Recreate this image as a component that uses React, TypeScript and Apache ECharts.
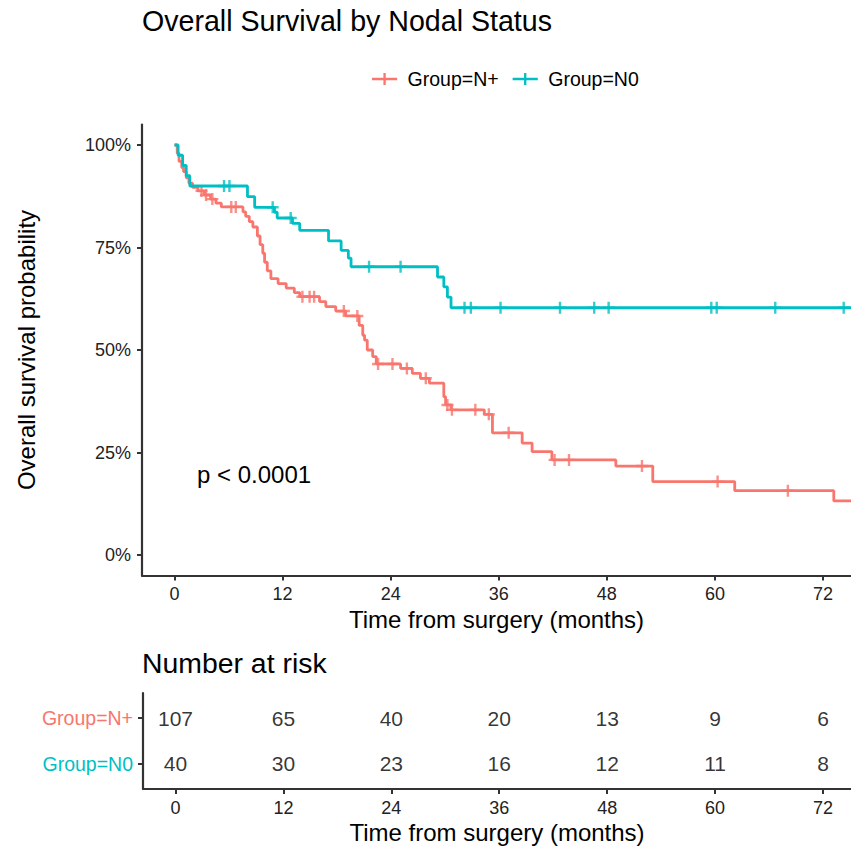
import React, { useEffect, useRef } from "react";
import * as echarts from "echarts";

const FONT = '"Liberation Sans", Arial, Helvetica, sans-serif';
const RED = "#F8766D";
const TEAL = "#00BFC4";

// Kaplan-Meier step points (time in months, survival in %)
const NPOS_TIMES = [0, 0.3, 0.5, 0.8, 1.0, 1.3, 1.6, 2.0, 2.6, 3.3, 4.0, 4.6, 5.2, 7.6, 7.9, 8.3, 8.7, 9.2, 9.5, 9.8, 10.0, 10.3, 10.7, 11.5, 12.4, 13.3, 13.9, 16.1, 16.8, 17.9, 19.0, 20.5, 20.9, 21.1, 21.4, 22.0, 22.4, 25.1, 26.4, 27.3, 28.3, 29.9, 30.1, 30.7, 34.4, 35.3, 38.6, 39.7, 41.9, 49.0, 53.1, 62.2, 73.2];
const NPOS_SURV = [100, 98, 96, 94.5, 93.5, 92, 90.7, 89.7, 88.8, 87.8, 86.8, 85.8, 84.9, 83.7, 82.6, 81.3, 80.0, 77.8, 75.7, 73.6, 71.4, 69.3, 67.4, 66.2, 65.1, 64.0, 63.0, 61.8, 60.6, 59.5, 58.3, 56.0, 53.6, 52.4, 50.0, 48.4, 46.6, 45.5, 44.3, 43.1, 41.9, 38.6, 36.6, 35.4, 34.3, 29.8, 27.3, 25.2, 23.2, 21.7, 17.9, 15.7, 13.2];
const NPOS_CENSOR = [3.0, 3.5, 4.2, 6.3, 6.8, 14.2, 15.0, 15.5, 18.8, 20.3, 22.6, 24.2, 25.8, 27.9, 30.3, 30.8, 33.4, 34.9, 37.1, 42.2, 43.8, 51.9, 60.3, 68.1];

const N0_TIMES = [0, 0.4, 0.9, 1.3, 1.7, 8.1, 8.9, 11.1, 11.4, 13.1, 13.9, 17.1, 18.5, 19.3, 19.6, 29.2, 29.9, 30.3, 30.7];
const N0_SURV = [100, 97.5, 95, 92.5, 90, 87.4, 84.8, 83.6, 82.2, 80.9, 79.2, 76.6, 74.3, 72.4, 70.3, 67.8, 65.4, 62.9, 60.3];
const N0_CENSOR = [5.5, 6.1, 10.9, 12.9, 21.6, 25.1, 32.2, 32.9, 36.2, 42.8, 46.6, 48.2, 59.6, 60.2, 66.7, 74.3];

const RISK_TIMES = [0, 12, 24, 36, 48, 60, 72];
const RISK_NPOS = [107, 65, 40, 20, 13, 9, 6];
const RISK_N0 = [40, 30, 23, 16, 12, 11, 8];

const X_TICKS = [0, 12, 24, 36, 48, 60, 72];
const Y_TICKS = [0, 25, 50, 75, 100];
const GROUPS = ["Group=N+", "Group=N0"];

const X_MIN = -3.61;
const X_MAX = 75.11;
const X_END = 80;

function stepData(times: number[], surv: number[]) {
  const d = times.map((t, i) => [t, surv[i]]);
  d.push([X_END, surv[surv.length - 1]]);
  return d;
}
function survAt(times: number[], surv: number[], t: number) {
  let v = surv[0];
  for (let i = 0; i < times.length; i++) if (times[i] <= t) v = surv[i];
  return v;
}
const PLUS = "path://M4,0H6V4H10V6H6V10H4V6H0V4H4Z";
const LEGEND_ICON = "path://M0,5H26V7.4H0Z M11.8,0H14.2V12.4H11.8Z";

export default function App() {
  const ref = useRef<HTMLDivElement>(null);
  useEffect(() => {
    if (!ref.current) return;
    const chart = echarts.init(ref.current, undefined, { renderer: "svg" });
    const axisLine = { show: true, onZero: false, lineStyle: { color: "#333", width: 2.2 } };
    const tickStyle = { color: "#333", width: 2 };
    const axisTickX = { show: true, customValues: X_TICKS, length: 5, lineStyle: tickStyle };
    const axisLabelX = { customValues: X_TICKS, fontSize: 18, color: "#222", margin: 9, fontFamily: FONT };
    const xName = {
      name: "Time from surgery (months)",
      nameLocation: "middle",
      nameTextStyle: { fontSize: 24, color: "#000", fontFamily: FONT },
    };
    const option: any = {
      animation: false,
      backgroundColor: "#fff",
      title: [
        { text: "Overall Survival by Nodal Status", left: 142, top: 6, padding: 0, textStyle: { fontSize: 28.6, fontWeight: "normal", color: "#000", fontFamily: FONT } },
        { text: "Number at risk", left: 142, top: 649, padding: 0, textStyle: { fontSize: 28.4, fontWeight: "normal", color: "#000", fontFamily: FONT } },
      ],
      legend: {
        data: GROUPS,
        top: 64,
        left: 367,
        itemWidth: 26,
        itemHeight: 12,
        itemGap: 14,
        icon: LEGEND_ICON,
        textStyle: { fontSize: 19.5, color: "#000", fontFamily: FONT, padding: [0, 0, 0, 5] },
      },
      grid: [
        { left: 142, right: 0, top: 124.5, height: 451 },
        { left: 143, right: 0, top: 693, height: 96 },
      ],
      xAxis: [
        { type: "value", gridIndex: 0, min: X_MIN, max: X_MAX, axisLine, axisTick: axisTickX, axisLabel: axisLabelX, splitLine: { show: false }, nameGap: 32, ...xName },
        { type: "value", gridIndex: 1, min: X_MIN, max: X_MAX, axisLine, axisTick: axisTickX, axisLabel: { ...axisLabelX, margin: 10 }, splitLine: { show: false }, nameGap: 31, ...xName },
      ],
      yAxis: [
        {
          type: "value", gridIndex: 0, min: -5, max: 105,
          axisLine,
          axisTick: { show: true, customValues: Y_TICKS, length: 5, lineStyle: tickStyle },
          axisLabel: { customValues: Y_TICKS, formatter: (v: number) => v + "%", fontSize: 18, color: "#222", margin: 11, fontFamily: FONT },
          splitLine: { show: false },
          name: "Overall survival probability",
          nameLocation: "middle",
          nameRotate: 90,
          nameGap: 104,
          nameTextStyle: { fontSize: 24, color: "#000", fontFamily: FONT },
        },
        {
          type: "value", gridIndex: 1, min: 0.45, max: 2.55,
          axisLine,
          axisTick: { show: true, customValues: [1, 2], length: 5, lineStyle: tickStyle },
          axisLabel: {
            customValues: [1, 2],
            margin: 10,
            formatter: (v: number) => (v === 2 ? "{a|" + GROUPS[0] + "}" : "{b|" + GROUPS[1] + "}"),
            rich: {
              a: { color: RED, fontSize: 19.5, fontFamily: FONT },
              b: { color: TEAL, fontSize: 19.5, fontFamily: FONT },
            },
          },
          splitLine: { show: false },
        },
      ],
      graphic: [
        { type: "text", left: 197, top: 462, style: { text: "p < 0.0001", font: "24px " + FONT, fill: "#000" } },
      ],
      series: [
        {
          name: GROUPS[0], type: "line", step: "end", xAxisIndex: 0, yAxisIndex: 0,
          data: stepData(NPOS_TIMES, NPOS_SURV), showSymbol: false, symbol: "none",
          lineStyle: { color: RED, width: 2.8 }, itemStyle: { color: RED }, clip: true,
        },
        {
          name: GROUPS[1], type: "line", step: "end", xAxisIndex: 0, yAxisIndex: 0,
          data: stepData(N0_TIMES, N0_SURV), showSymbol: false, symbol: "none",
          lineStyle: { color: TEAL, width: 2.8 }, itemStyle: { color: TEAL }, clip: true,
        },
        {
          name: "censor N+", type: "scatter", xAxisIndex: 0, yAxisIndex: 0, symbol: PLUS, symbolSize: 12,
          data: NPOS_CENSOR.map((t) => [t, survAt(NPOS_TIMES, NPOS_SURV, t)]), itemStyle: { color: RED },
        },
        {
          name: "censor N0", type: "scatter", xAxisIndex: 0, yAxisIndex: 0, symbol: PLUS, symbolSize: 12,
          data: N0_CENSOR.map((t) => [t, survAt(N0_TIMES, N0_SURV, t)]), itemStyle: { color: TEAL },
        },
        {
          name: "risk N+", type: "scatter", xAxisIndex: 1, yAxisIndex: 1, symbolSize: 1,
          itemStyle: { color: "transparent" },
          data: RISK_TIMES.map((t, i) => [t, 2, RISK_NPOS[i]]),
          label: { show: true, position: "inside", formatter: (p: any) => String(p.value[2]), fontSize: 21, color: "#000", fontFamily: FONT },
        },
        {
          name: "risk N0", type: "scatter", xAxisIndex: 1, yAxisIndex: 1, symbolSize: 1,
          itemStyle: { color: "transparent" },
          data: RISK_TIMES.map((t, i) => [t, 1, RISK_N0[i]]),
          label: { show: true, position: "inside", formatter: (p: any) => String(p.value[2]), fontSize: 21, color: "#000", fontFamily: FONT },
        },
      ],
    };
    chart.setOption(option);
    return () => chart.dispose();
  }, []);
  return <div ref={ref} style={{ position: "fixed", left: 0, top: 0, width: 851, height: 852, background: "#fff" }} />;
}
